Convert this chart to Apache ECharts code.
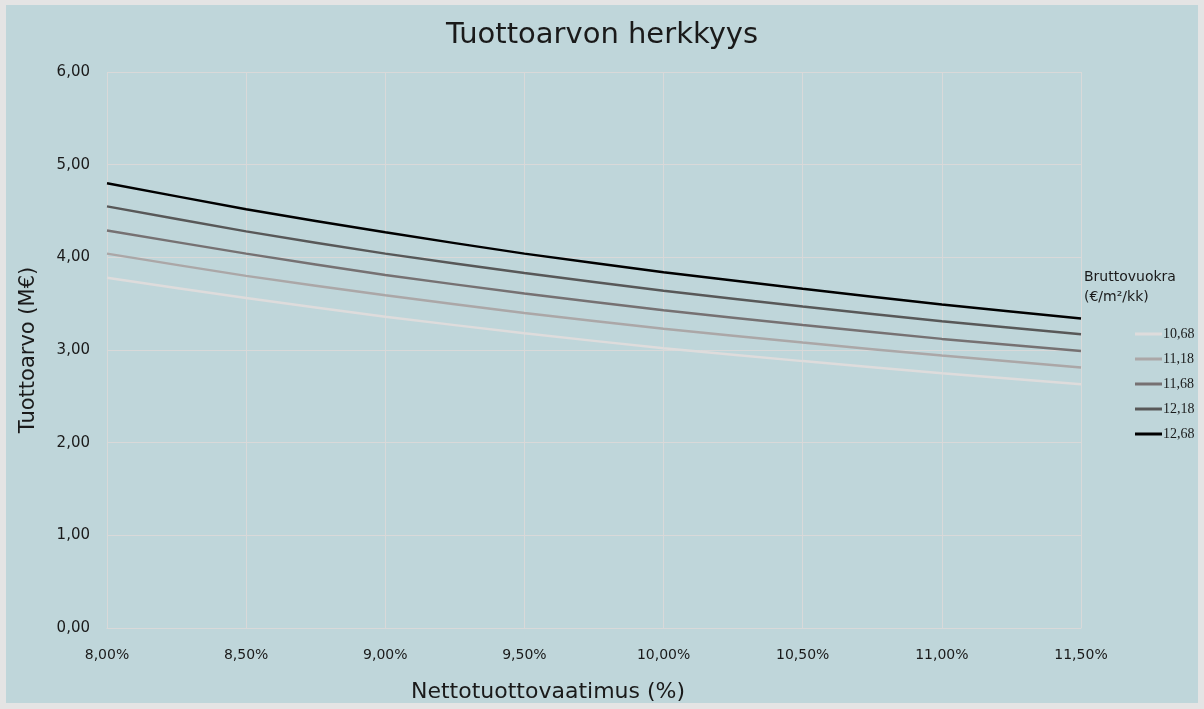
<!DOCTYPE html>
<html>
<head>
<meta charset="utf-8">
<script src="https://cdn.jsdelivr.net/npm/echarts@6/dist/echarts.min.js"></script>
<style>
  html, body { margin: 0; padding: 0; background: #e4e4e4; }
  #chart { width: 1204px; height: 709px; }
</style>
</head>
<body>
<div id="chart"></div>
<script>
// Nettotuottovaatimus
const yields = ['8,00%', '8,50%', '9,00%', '9,50%', '10,00%', '10,50%', '11,00%', '11,50%']
// Bruttovuokra €/m²/kk
const rents = ['10,68', '11,18', '11,68', '12,18', '12,68']
const rent1068 = [3.78, 3.56, 3.36, 3.18, 3.02, 2.88, 2.75, 2.63]
const rent1118 = [4.04, 3.80, 3.59, 3.40, 3.23, 3.08, 2.94, 2.81]
const rent1168 = [4.29, 4.04, 3.81, 3.61, 3.43, 3.27, 3.12, 2.99]
const rent1218 = [4.55, 4.28, 4.04, 3.83, 3.64, 3.47, 3.31, 3.17]
const rent1268 = [4.80, 4.52, 4.27, 4.04, 3.84, 3.66, 3.49, 3.34]
const valueTicks = [0, 1, 2, 3, 4, 5, 6]

const seriesData = [rent1068, rent1118, rent1168, rent1218, rent1268]
const colors = ['#dedcdc', '#aba7a7', '#767172', '#585858', '#000000']

const font = 'DejaVu Sans'
const chart = echarts.init(document.getElementById('chart'))

chart.setOption({
  animation: false,
  color: colors,
  textStyle: { fontFamily: font },
  title: {
    text: 'Tuottoarvon herkkyys',
    left: 'center',
    top: 16,
    textStyle: { fontFamily: font, fontSize: 29, fontWeight: 'normal', color: '#1a1a1a' }
  },
  graphic: [
    {
      type: 'rect',
      z: -10,
      shape: { x: 6, y: 5, width: 1192, height: 698 },
      style: { fill: '#bfd6da' },
      silent: true
    },
    {
      type: 'text',
      x: 548,
      y: 692,
      style: { text: 'Nettotuottovaatimus (%)', font: '22px "DejaVu Sans"', fill: '#1a1a1a', align: 'center', verticalAlign: 'middle' }
    },
    {
      type: 'text',
      left: 1084,
      top: 267,
      style: { text: 'Bruttovuokra\n(€/m²/kk)', font: '14px "DejaVu Sans"', lineHeight: 20, fill: '#1a1a1a' }
    }
  ],
  grid: { left: 107, right: 123, top: 72, bottom: 81 },
  legend: {
    orient: 'vertical',
    left: 1130,
    top: 322,
    itemWidth: 27,
    itemHeight: 3,
    itemGap: 11,
    icon: 'rect',
    data: rents,
    textStyle: { fontFamily: 'Liberation Serif', fontSize: 14, color: '#1a1a1a', padding: [0, 0, 0, -4] }
  },
  xAxis: {
    type: 'category',
    boundaryGap: false,
    data: yields,
    axisLine: { lineStyle: { color: '#d9d9d9', width: 1 } },
    axisTick: { show: false },
    axisLabel: { color: '#1a1a1a', fontSize: 14, margin: 20 },
    splitLine: { show: true, lineStyle: { color: '#d9d9d9', width: 1 } }
  },
  yAxis: {
    type: 'value',
    min: valueTicks[0],
    max: valueTicks[valueTicks.length - 1],
    interval: 1,
    name: 'Tuottoarvo (M€)',
    nameLocation: 'middle',
    nameGap: 68,
    nameTextStyle: { fontFamily: font, fontSize: 21, color: '#1a1a1a' },
    axisLine: { show: false },
    axisTick: { show: false },
    axisLabel: { color: '#1a1a1a', fontSize: 15, margin: 17, formatter: v => v.toFixed(2).replace('.', ',') },
    splitLine: { lineStyle: { color: '#d9d9d9', width: 1 } }
  },
  series: rents.map((name, i) => ({
    name,
    type: 'line',
    smooth: 0.2,
    symbol: 'none',
    lineStyle: { width: 2.5, color: colors[i] },
    data: seriesData[i]
  }))
})
</script>
</body>
</html>
